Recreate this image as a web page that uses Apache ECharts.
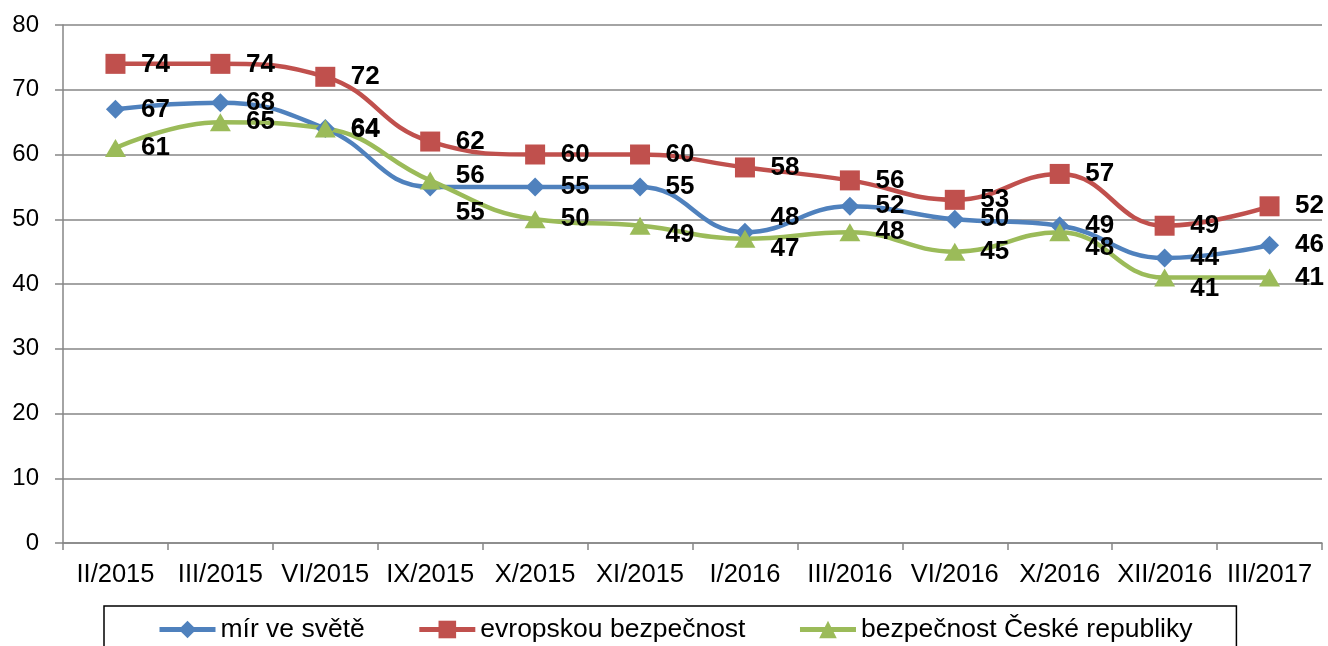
<!DOCTYPE html>
<html>
<head>
<meta charset="utf-8">
<script src="https://cdn.jsdelivr.net/npm/echarts@6/dist/echarts.min.js"></script>
<style>
  html, body { margin: 0; padding: 0; background: #fff; }
  #main { width: 1328px; height: 646px; }
</style>
</head>
<body>
<div id="main"></div>
<script>
// kategorie (obdobi)
var months = ['II/2015', 'III/2015', 'VI/2015', 'IX/2015', 'X/2015', 'XI/2015',
  'I/2016', 'III/2016', 'VI/2016', 'X/2016', 'XII/2016', 'III/2017'];

var mirVeSvete = [67, 68, 64, 55, 55, 55, 48, 52, 50, 49, 44, 46];
var evropskaBezpecnost = [74, 74, 72, 62, 60, 60, 58, 56, 53, 57, 49, 52];
var bezpecnostCR = [61, 65, 64, 56, 50, 49, 47, 48, 45, 48, 41, 41];

var yTicks = [0, 10, 20, 30, 40, 50, 60, 70, 80];

// svisle posunuti popisku (aby se neprekryvaly jako v originale)
var blueShift = [1, 0, 1, 26, 0, 0, -14, 0, 0, 0, 0, 0];
var redShift = [1, 1, 0, 0, 0, 0, 0, 0, 0, 0, 0, 0];
var greenShift = [0, 0, 0, -5, 0, 9, 10, 0, 0, 16, 11, 0];

var font = '"Liberation Sans", Arial, sans-serif';

function withLabels(values, shifts) {
  return values.map(function (v, i) {
    return { value: v, label: { offset: [40, shifts[i]] } };
  });
}

function makeSeries(name, values, shifts, color, symbol, size) {
  return {
    name: name,
    type: 'line',
    smooth: 0.45,
    data: withLabels(values, shifts),
    symbol: symbol,
    symbolSize: size,
    lineStyle: { color: color, width: 4.5 },
    itemStyle: { color: color },
    label: {
      show: true,
      position: 'inside',
      color: '#000',
      fontFamily: font,
      fontWeight: 'bold',
      fontSize: 26
    },
    emphasis: { disabled: true }
  };
}

var myChart = echarts.init(document.getElementById('main'));
var option = {
  animation: false,
  textStyle: { fontFamily: font },
  grid: { left: 63, right: 6, top: 25, bottom: 103 },
  xAxis: {
    type: 'category',
    data: months,
    boundaryGap: true,
    axisLine: { lineStyle: { color: '#868686', width: 1.5 } },
    axisTick: { show: true, length: 7, lineStyle: { color: '#868686', width: 1.5 } },
    axisLabel: { color: '#000', fontSize: 25.5, margin: 19, interval: 0, fontFamily: font }
  },
  yAxis: {
    type: 'value',
    min: yTicks[0],
    max: yTicks[yTicks.length - 1],
    interval: 10,
    axisLine: { show: true, lineStyle: { color: '#868686', width: 1.5 } },
    axisTick: { show: true, length: 8, lineStyle: { color: '#868686', width: 1.5 } },
    axisLabel: { color: '#000', fontSize: 24, margin: 24, fontFamily: font },
    splitLine: { lineStyle: { color: '#868686', width: 1.5 } }
  },
  legend: {
    left: 104,
    top: 606,
    padding: [10, 44, 40, 53],
    borderColor: '#000',
    borderWidth: 1.5,
    itemWidth: 56,
    itemHeight: 22,
    itemGap: 52,
    lineStyle: { width: 5 },
    textStyle: { color: '#000', fontSize: 26.5, fontFamily: font },
    data: ['mír ve světě', 'evropskou bezpečnost', 'bezpečnost České republiky']
  },
  series: [
    makeSeries('mír ve světě', mirVeSvete, blueShift, '#4F81BD', 'diamond', 19),
    makeSeries('evropskou bezpečnost', evropskaBezpecnost, redShift, '#C0504D', 'rect', 20),
    makeSeries('bezpečnost České republiky', bezpecnostCR, greenShift, '#9BBB59', 'triangle', [21, 18])
  ]
};
myChart.setOption(option);
</script>
</body>
</html>
